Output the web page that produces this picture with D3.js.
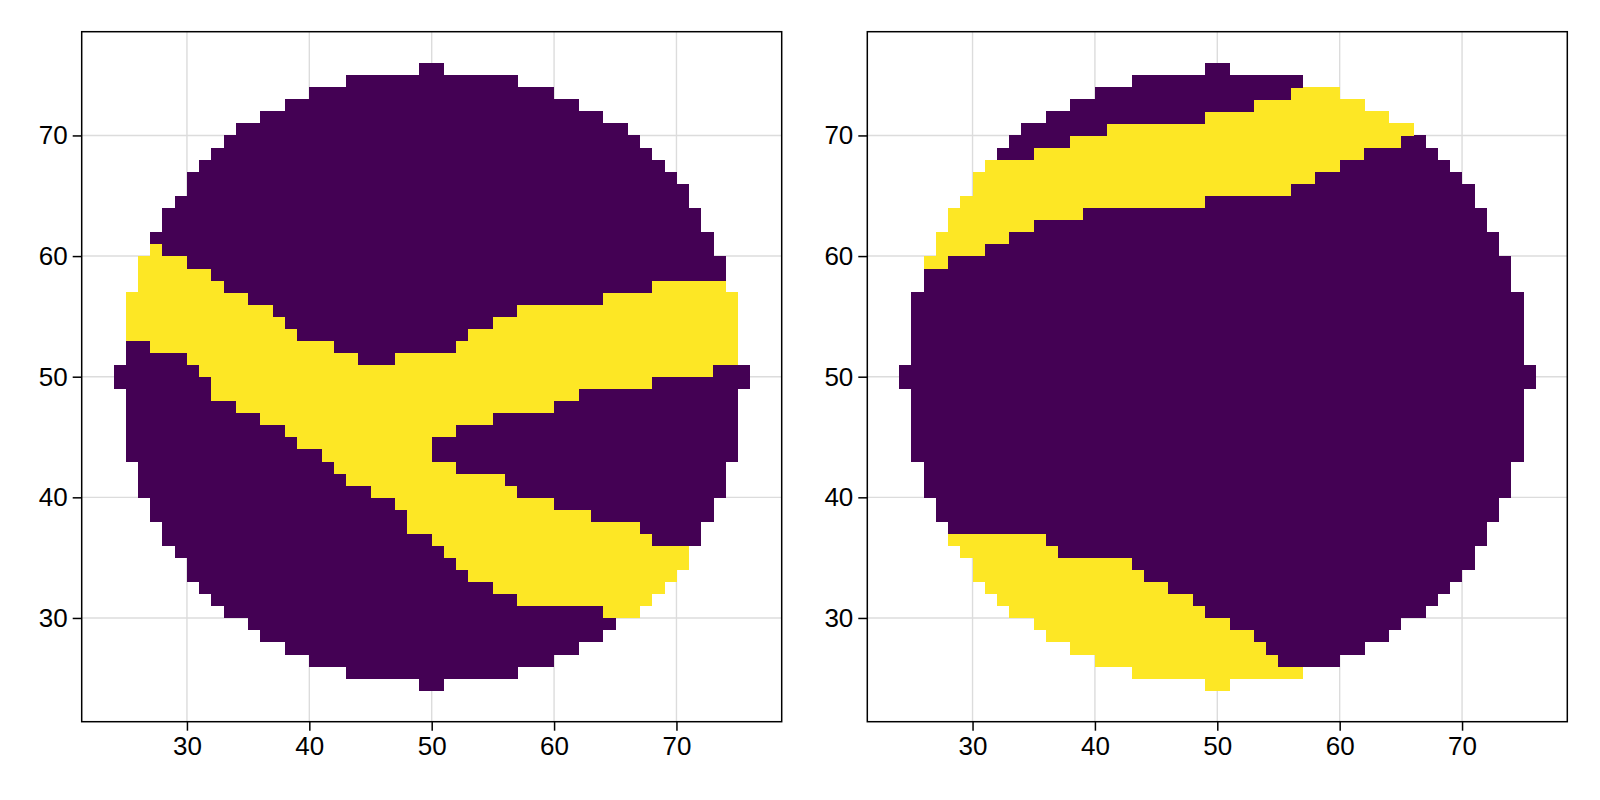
<!DOCTYPE html>
<html>
<head>
<meta charset="utf-8">
<script src="https://cdn.jsdelivr.net/npm/d3@7"></script>
<style>
  body { margin: 0; background: #fff; }
  text { font-family: "Liberation Sans", Arial, sans-serif; }
</style>
</head>
<body>
<svg id="chart" width="1600" height="800"></svg>
<script>
// disc outline: lower edge of each row and the x extent of the cells in it
const rowY =    [24,25,26,27,28,29,30,31,32,33,34,35,36,37,38,39,40,41,42,43,44,45,46,47,48,49,
                 50,51,52,53,54,55,56,57,58,59,60,61,62,63,64,65,66,67,68,69,70,71,72,73,74,75];
const rowXMin = [49,43,40,38,36,35,33,32,31,30,30,29,28,28,27,27,26,26,26,25,25,25,25,25,25,24,
                 24,25,25,25,25,25,25,26,26,26,27,27,28,28,29,30,30,31,32,33,34,36,38,40,43,49];
const rowXMax = [51,57,60,62,64,65,67,68,69,70,71,71,72,72,73,73,74,74,74,75,75,75,75,75,75,76,
                 76,75,75,75,75,75,75,74,74,74,73,73,72,72,71,71,70,69,68,67,66,64,62,60,57,51];

// yellow runs (value 1) per panel: [row, x from, x to]
const leftYellow = [
  [60,27,28],[59,26,30],[58,26,32],[57,26,33],[57,68,74],[56,25,35],[56,64,75],
  [55,25,37],[55,57,75],[54,25,38],[54,55,75],[53,25,39],[53,53,75],[52,27,42],[52,52,75],
  [51,30,44],[51,47,75],[50,31,73],[49,32,68],[48,32,62],[47,34,60],[46,36,55],[45,38,52],
  [44,39,50],[43,41,50],[42,42,52],[41,43,56],[40,45,57],[39,47,60],[38,48,63],[37,48,67],
  [36,50,68],[35,51,71],[34,52,71],[33,53,70],[32,55,69],[31,57,68],[30,64,67]
];
const rightYellow = [
  [73,56,60],[72,53,62],[71,49,64],[70,41,66],[69,38,65],[68,35,62],[67,31,60],[66,30,58],
  [65,30,56],[64,29,49],[63,28,39],[62,28,35],[61,27,33],[60,27,31],[59,26,28],
  [36,28,36],[35,29,37],[34,30,43],[33,30,44],[32,31,46],[31,32,48],[30,33,49],[29,35,51],
  [28,36,53],[27,38,54],[26,40,55],[25,43,57],[24,49,51]
];

const xTicks = [30, 40, 50, 60, 70];
const yTicks = [30, 40, 50, 60, 70];
const colors = ["#440154", "#fde725"];

const W = 700, H = 690;
const svg = d3.select("#chart");
const x = d3.scaleLinear().domain([21.4, 78.6]).range([0, W]);
const y = d3.scaleLinear().domain([21.4, 78.6]).range([H, 0]);

function buildCells(yellow){
  let cells = [];
  rowY.forEach(function(r, i){
    for(let c = rowXMin[i]; c < rowXMax[i]; c++){
      let v = yellow.some(s => s[0] == r && c >= s[1] && c < s[2]) ? 1 : 0;
      cells.push({x: c, y: r, v: v});
    }
  });
  return cells;
}

function drawPanel(ox, oy, yellow){
  let g = svg.append("g").attr("transform", "translate(" + ox + "," + oy + ")");
  //grid
  g.selectAll(".gx").data(xTicks).enter().append("line")
    .attr("x1", d => x(d)).attr("x2", d => x(d)).attr("y1", 0).attr("y2", H)
    .attr("stroke", "#dcdcdc").attr("stroke-width", 1.4);
  g.selectAll(".gy").data(yTicks).enter().append("line")
    .attr("y1", d => y(d)).attr("y2", d => y(d)).attr("x1", 0).attr("x2", W)
    .attr("stroke", "#dcdcdc").attr("stroke-width", 1.4);
  //cells
  g.selectAll("rect.cell").data(buildCells(yellow)).enter().append("rect")
    .attr("class", "cell")
    .attr("x", d => x(d.x)).attr("y", d => y(d.y + 1))
    .attr("width", x(1) - x(0) + 0.4).attr("height", y(0) - y(1) + 0.4)
    .attr("fill", d => colors[d.v])
    .attr("shape-rendering", "crispEdges");
  //frame
  g.append("rect").attr("width", W).attr("height", H)
    .attr("fill", "none").attr("stroke", "#000").attr("stroke-width", 1.5);
  //axes
  let ax = g.append("g").attr("transform", "translate(0," + H + ")")
    .call(d3.axisBottom(x).tickValues(xTicks).tickSize(9).tickPadding(6).tickFormat(d3.format("d")));
  let ay = g.append("g")
    .call(d3.axisLeft(y).tickValues(yTicks).tickSize(9).tickPadding(5).tickFormat(d3.format("d")));
  [ax, ay].forEach(function(a){
    a.select(".domain").remove();
    a.selectAll("line").attr("stroke", "#000").attr("stroke-width", 1.5);
    a.selectAll("text").attr("font-size", "26px").attr("fill", "#000")
      .attr("font-family", "'Liberation Sans', Arial, sans-serif");
  });
}

drawPanel(81.7, 31.7, leftYellow);
drawPanel(867.3, 31.7, rightYellow);
</script>
</body>
</html>
